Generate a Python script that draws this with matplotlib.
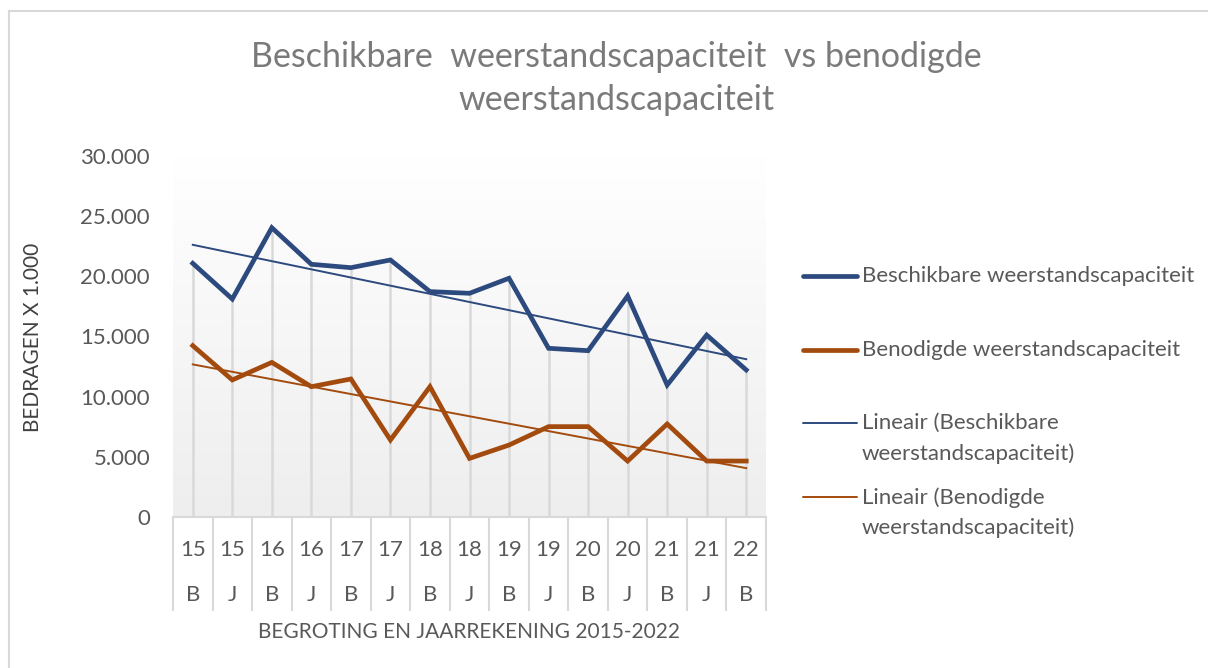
import numpy as np
import matplotlib
matplotlib.use("Agg")
import matplotlib.pyplot as plt
from matplotlib.lines import Line2D
from matplotlib.colors import LinearSegmentedColormap

years = ["15", "15", "16", "16", "17", "17", "18", "18", "19", "19", "20", "20", "21", "21", "22"]
kinds = ["B", "J", "B", "J", "B", "J", "B", "J", "B", "J", "B", "J", "B", "J", "B"]
beschikbaar = [21080, 18115, 24040, 21000, 20720, 21360, 18730, 18590, 19840,
               14020, 13820, 18370, 10970, 15120, 12220]
benodigd = [14240, 11390, 12850, 10830, 11470, 6400, 10830, 4870, 5980,
            7510, 7510, 4650, 7730, 4650, 4650]
yticks = [0, 5000, 10000, 15000, 20000, 25000, 30000]
ytick_labels = ["0", "5.000", "10.000", "15.000", "20.000", "25.000", "30.000"]
legend_labels = ["Beschikbare weerstandscapaciteit", "Benodigde weerstandscapaciteit",
                 "Lineair (Beschikbare\nweerstandscapaciteit)",
                 "Lineair (Benodigde\nweerstandscapaciteit)"]

BLUE = "#2D4A7E"
ORANGE = "#A34B0E"
GRID = "#d9d9d9"
TXT = "#595959"

plt.rcParams['font.family'] = ['Lato', 'DejaVu Sans']

W, H = 1208, 668
fig = plt.figure(figsize=(W / 100, H / 100), dpi=100)
fig.patch.set_facecolor("white")

# chart frame (left and top edges visible)
fig.add_artist(Line2D([8.5 / W, 8.5 / W], [0, 1 - 10.5 / H], transform=fig.transFigure,
                      color=GRID, lw=1.5))
fig.add_artist(Line2D([8.5 / W, 1], [1 - 10.5 / H, 1 - 10.5 / H], transform=fig.transFigure,
                      color=GRID, lw=1.5))

L, R, T, B = 173, 766, 156, 517
ax = fig.add_axes([L / W, 1 - B / H, (R - L) / W, (B - T) / H])
x = np.arange(len(beschikbaar))
ax.set_xlim(-0.5, len(x) - 0.5)

# gradient background: white at top, light grey at bottom
grad = np.linspace(1, 0, 256).reshape(-1, 1)
cmap = LinearSegmentedColormap.from_list("bg", ["#ffffff", "#eeeeee"])
ax.imshow(grad, extent=[-0.5, len(x) - 0.5, 0, 30000], aspect="auto", cmap=cmap,
          zorder=0, origin="lower")
ax.set_ylim(0, 30000)

top = np.maximum(beschikbaar, benodigd)
ax.vlines(x, 0, top, color=GRID, lw=1.8, zorder=1)

ax.plot(x, beschikbaar, color=BLUE, lw=3.4, zorder=3, solid_joinstyle="miter")
ax.plot(x, benodigd, color=ORANGE, lw=3.4, zorder=3, solid_joinstyle="miter")
cb = np.polyfit(x, beschikbaar, 1)
co = np.polyfit(x, benodigd, 1)
ax.plot(x, np.polyval(cb, x), color=BLUE, lw=1.4, zorder=4)
ax.plot(x, np.polyval(co, x), color=ORANGE, lw=1.4, zorder=4)

for s in ax.spines.values():
    s.set_visible(False)
ax.set_yticks(yticks)
ax.set_yticklabels(ytick_labels, fontsize=16, color=TXT)
ax.tick_params(axis="y", length=0, pad=16.5)
ax.set_xticks([])

# category table under the axis
tr = ax.get_xaxis_transform()
row1 = -(550 - B) / (B - T)
row2 = -(595 - B) / (B - T)
bottom = -(610 - B) / (B - T)
ax.plot([-0.5, len(x) - 0.5], [0, 0], transform=tr, color=GRID, lw=1.5, clip_on=False)
for b in np.arange(-0.5, len(x), 1.0):
    ax.plot([b, b], [0, bottom], transform=tr, color=GRID, lw=1.5, clip_on=False)
for i in x:
    ax.text(i, row1, years[i], transform=tr, ha="center", va="center", fontsize=16, color=TXT)
    ax.text(i, row2, kinds[i], transform=tr, ha="center", va="center", fontsize=16, color=TXT)

fig.text((L + R) / 2 / W, 1 - 632 / H, "BEGROTING EN JAARREKENING 2015-2022",
         ha="center", va="center", fontsize=15, color=TXT)
fig.text(33 / W, 1 - 337 / H, "BEDRAGEN X 1.000", rotation=90, ha="center", va="center",
         fontsize=15, color="#404040")

fig.text(616 / W, 1 - 57 / H, "Beschikbare  weerstandscapaciteit  vs benodigde",
         ha="center", va="center", fontsize=24.5, color="#7a7a7a")
fig.text(616 / W, 1 - 100 / H, "weerstandscapaciteit",
         ha="center", va="center", fontsize=24.5, color="#7a7a7a")

# legend
entries = [(276, BLUE, 3.4), (350, ORANGE, 3.4), (423, BLUE, 1.4), (497, ORANGE, 1.4)]
for (yy, c, lw), lab in zip(entries, legend_labels):
    fig.add_artist(Line2D([803 / W, 857 / W], [1 - yy / H, 1 - yy / H],
                          transform=fig.transFigure, color=c, lw=lw,
                          solid_capstyle="round"))
    fig.text(862 / W, 1 - (yy - 10) / H, lab, ha="left", va="top", fontsize=16,
             color=TXT, linespacing=1.62)

fig.savefig("out.png", dpi=100)
